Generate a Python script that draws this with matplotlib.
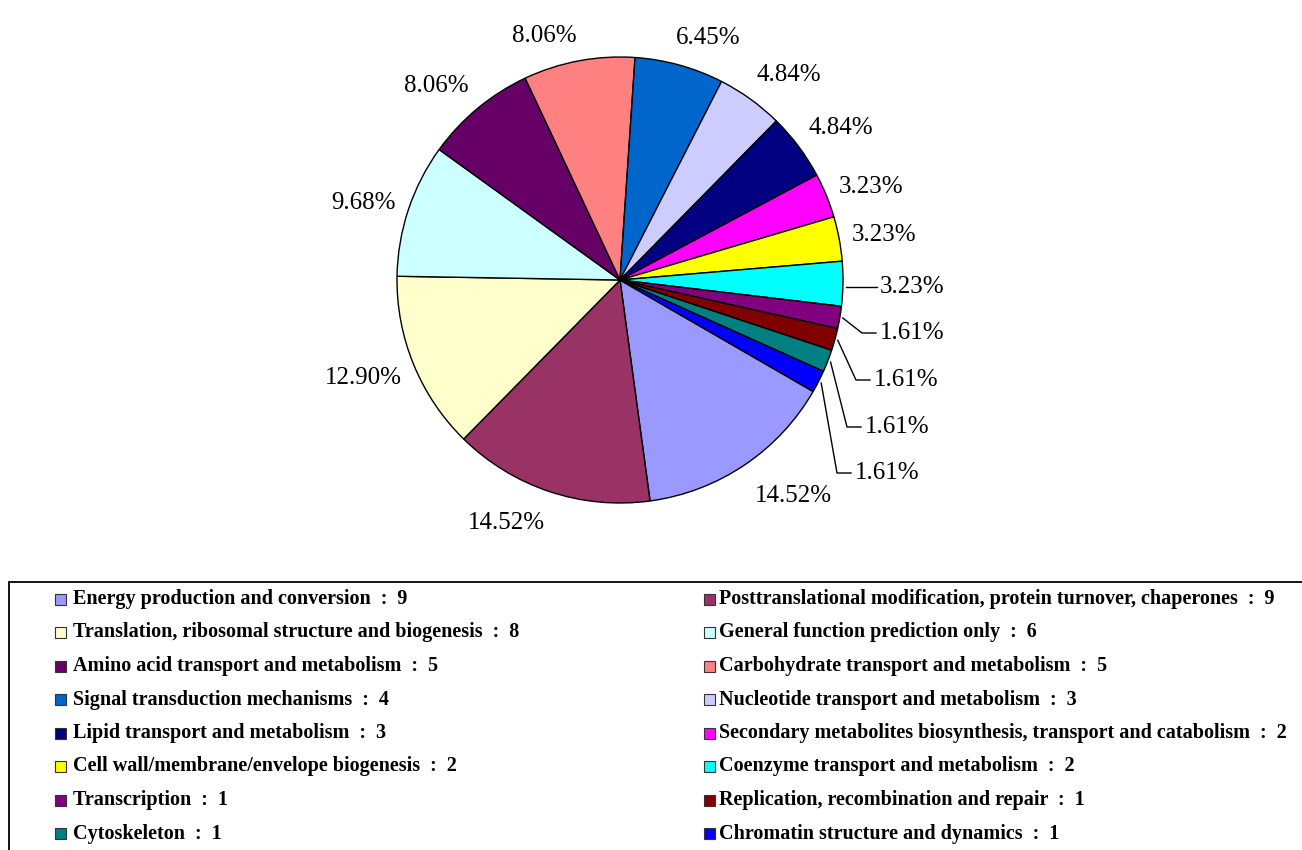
import numpy as np
import matplotlib
matplotlib.use("Agg")
import matplotlib.pyplot as plt
from matplotlib.patches import Rectangle

categories = [
    "Energy production and conversion",
    "Posttranslational modification, protein turnover, chaperones",
    "Translation, ribosomal structure and biogenesis",
    "General function prediction only",
    "Amino acid transport and metabolism",
    "Carbohydrate transport and metabolism",
    "Signal transduction mechanisms",
    "Nucleotide transport and metabolism",
    "Lipid transport and metabolism",
    "Secondary metabolites biosynthesis, transport and catabolism",
    "Cell wall/membrane/envelope biogenesis",
    "Coenzyme transport and metabolism",
    "Transcription",
    "Replication, recombination and repair",
    "Cytoskeleton",
    "Chromatin structure and dynamics",
]
counts = [9, 9, 8, 6, 5, 5, 4, 3, 3, 2, 2, 2, 1, 1, 1, 1]
colors = ["#9999FF", "#993366", "#FFFFCC", "#CCFFFF", "#660066", "#FF8080",
          "#0066CC", "#CCCCFF", "#000080", "#FF00FF", "#FFFF00", "#00FFFF",
          "#800080", "#800000", "#008080", "#0000FF"]

W, H = 1302, 850
fig = plt.figure(figsize=(W / 100, H / 100), dpi=100)
ax = fig.add_axes([0, 0, 1, 1])

def py(y):
    return H - y

cx, cy, R = 620, 280, 223
wedges, _ = ax.pie(counts, colors=colors, startangle=-30, counterclock=False,
                   center=(cx, py(cy)), radius=R,
                   wedgeprops=dict(edgecolor="black", linewidth=1.0))
ax.set_xlim(0, W)
ax.set_ylim(0, H)
ax.set_aspect("equal")
ax.axis("off")

serif = ["Liberation Serif", "DejaVu Serif"]
total = sum(counts)
pct_fs = 18

# label layout (pixel positions of label centres, style only)
label_pos = {0: (793, 496), 1: (506, 523), 2: (363, 378), 3: (364, 203),
             4: (436, 86), 5: (544, 36), 6: (708, 38), 7: (789, 75),
             8: (841, 128), 9: (871, 187), 10: (884, 235)}
# leader-line labels for the smallest slices (left edge x, centre y)
leader_pos = {11: (880, 287), 12: (880, 333), 13: (874, 380),
              14: (865, 427), 15: (855, 473)}

for i, (w, c) in enumerate(zip(wedges, counts)):
    mid = np.deg2rad((w.theta1 + w.theta2) / 2)
    txt = f"{100 * c / total:.2f}%"
    if i in leader_pos:
        sx = cx + (R + 3) * np.cos(mid)
        sy = py(cy) + (R + 3) * np.sin(mid)
        tx, ty = leader_pos[i]
        ty = py(ty)
        if i == 11:
            ax.plot([sx, tx - 3], [ty, ty], color="black", lw=1.0)
        else:
            ax.plot([sx, tx - 18, tx - 4], [sy, ty, ty], color="black", lw=1.0)
        ax.text(tx, ty, txt, ha="left", va="center", fontsize=pct_fs,
                family=serif, color="black")
    else:
        lx, ly = label_pos[i]
        ax.text(lx, py(ly), txt, ha="center", va="center", fontsize=pct_fs,
                family=serif, color="black")

# legend box
ax.add_patch(Rectangle((9, py(870)), 1320, 870 - 582, fill=False,
                       edgecolor="black", linewidth=1.3, clip_on=True))
leg_fs = 14.5
for i, (name, c, col) in enumerate(zip(categories, counts, colors)):
    row, colm = divmod(i, 2)
    y = py(599 + 33.5 * row)
    sqx = 55 if colm == 0 else 704
    tx = 73 if colm == 0 else 719
    ax.add_patch(Rectangle((sqx, y - 5.5), 11, 11, facecolor=col,
                           edgecolor="#333333", linewidth=0.8))
    ax.text(tx, y, f"{name}  :  {c}", ha="left", va="center",
            fontsize=leg_fs, fontweight="bold", family=serif, color="black")

fig.savefig("out.png", dpi=100, facecolor="white")
